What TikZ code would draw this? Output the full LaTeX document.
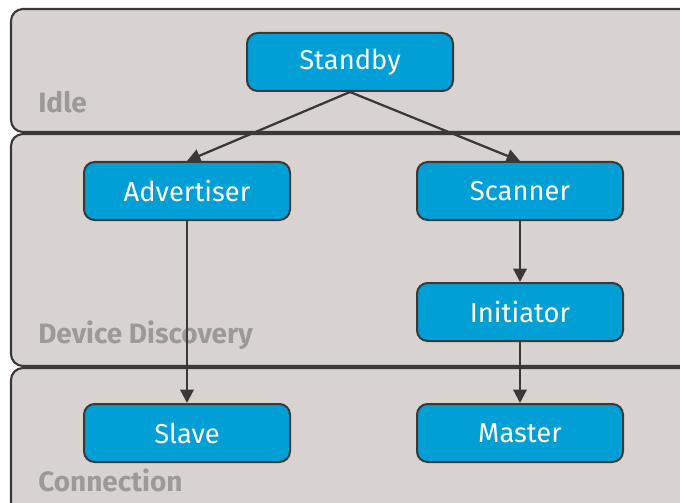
\documentclass[tikz,border=0pt]{standalone}
\usepackage{fontspec}
\setmainfont{Fira Sans}
\usetikzlibrary{arrows.meta}
\definecolor{panelgray}{HTML}{D8D3D0}
\definecolor{edgegray}{HTML}{3A3838}
\definecolor{stateblue}{HTML}{009FD6}
\definecolor{labelgray}{HTML}{9C9A99}
\tikzset{
  panel/.style={draw=edgegray,line width=1.6pt,fill=panelgray,rounded corners=9pt},
  state/.style={draw=edgegray,line width=1.5pt,fill=stateblue,rounded corners=8pt,
    minimum width=154.5pt,minimum height=43.5pt,text=white,font=\fontsize{20.5}{24}\selectfont},
  zone/.style={anchor=base west,text=labelgray,inner sep=0pt,font=\bfseries\fontsize{21}{24}\selectfont},
  trans/.style={draw=edgegray,line width=1.7pt,-{Triangle[length=10pt,width=10pt]}}
}
\begin{document}
\begin{tikzpicture}[x=0.75pt,y=-0.75pt]
     \useasboundingbox (0,0) rectangle (680,502);
     % the three layers
     \draw[panel] (11,9) rectangle (720,132);
     \draw[panel] (11,134) rectangle (720,366);
     \draw[panel] (11,368) rectangle (720,540);
     \node[zone] (idle) at (38,113) {Idle};
     \node[zone] (discovery) at (38,343) {Device Discovery};
     \node[zone] (connection) at (38,491) {Connection};
     % states
     \node[state] (standby) at (350,62) {Standby};
     \node[state] (advertiser) at (187,191) {Advertiser};
     \node[state] (scanner) at (520,191) {Scanner};
     \node[state] (initiator) at (520,312) {Initiator};
     \node[state] (slave) at (187,433) {Slave};
     \node[state] (master) at (520,433) {Master};
     % transitions
     \draw[trans] (standby.south) -- (advertiser.north);
     \draw[trans] (standby.south) -- (scanner.north);
     \draw[trans] (advertiser) -- (slave);
     \draw[trans] (scanner) -- (initiator);
     \draw[trans] (initiator) -- (master);
\end{tikzpicture}
\end{document}
